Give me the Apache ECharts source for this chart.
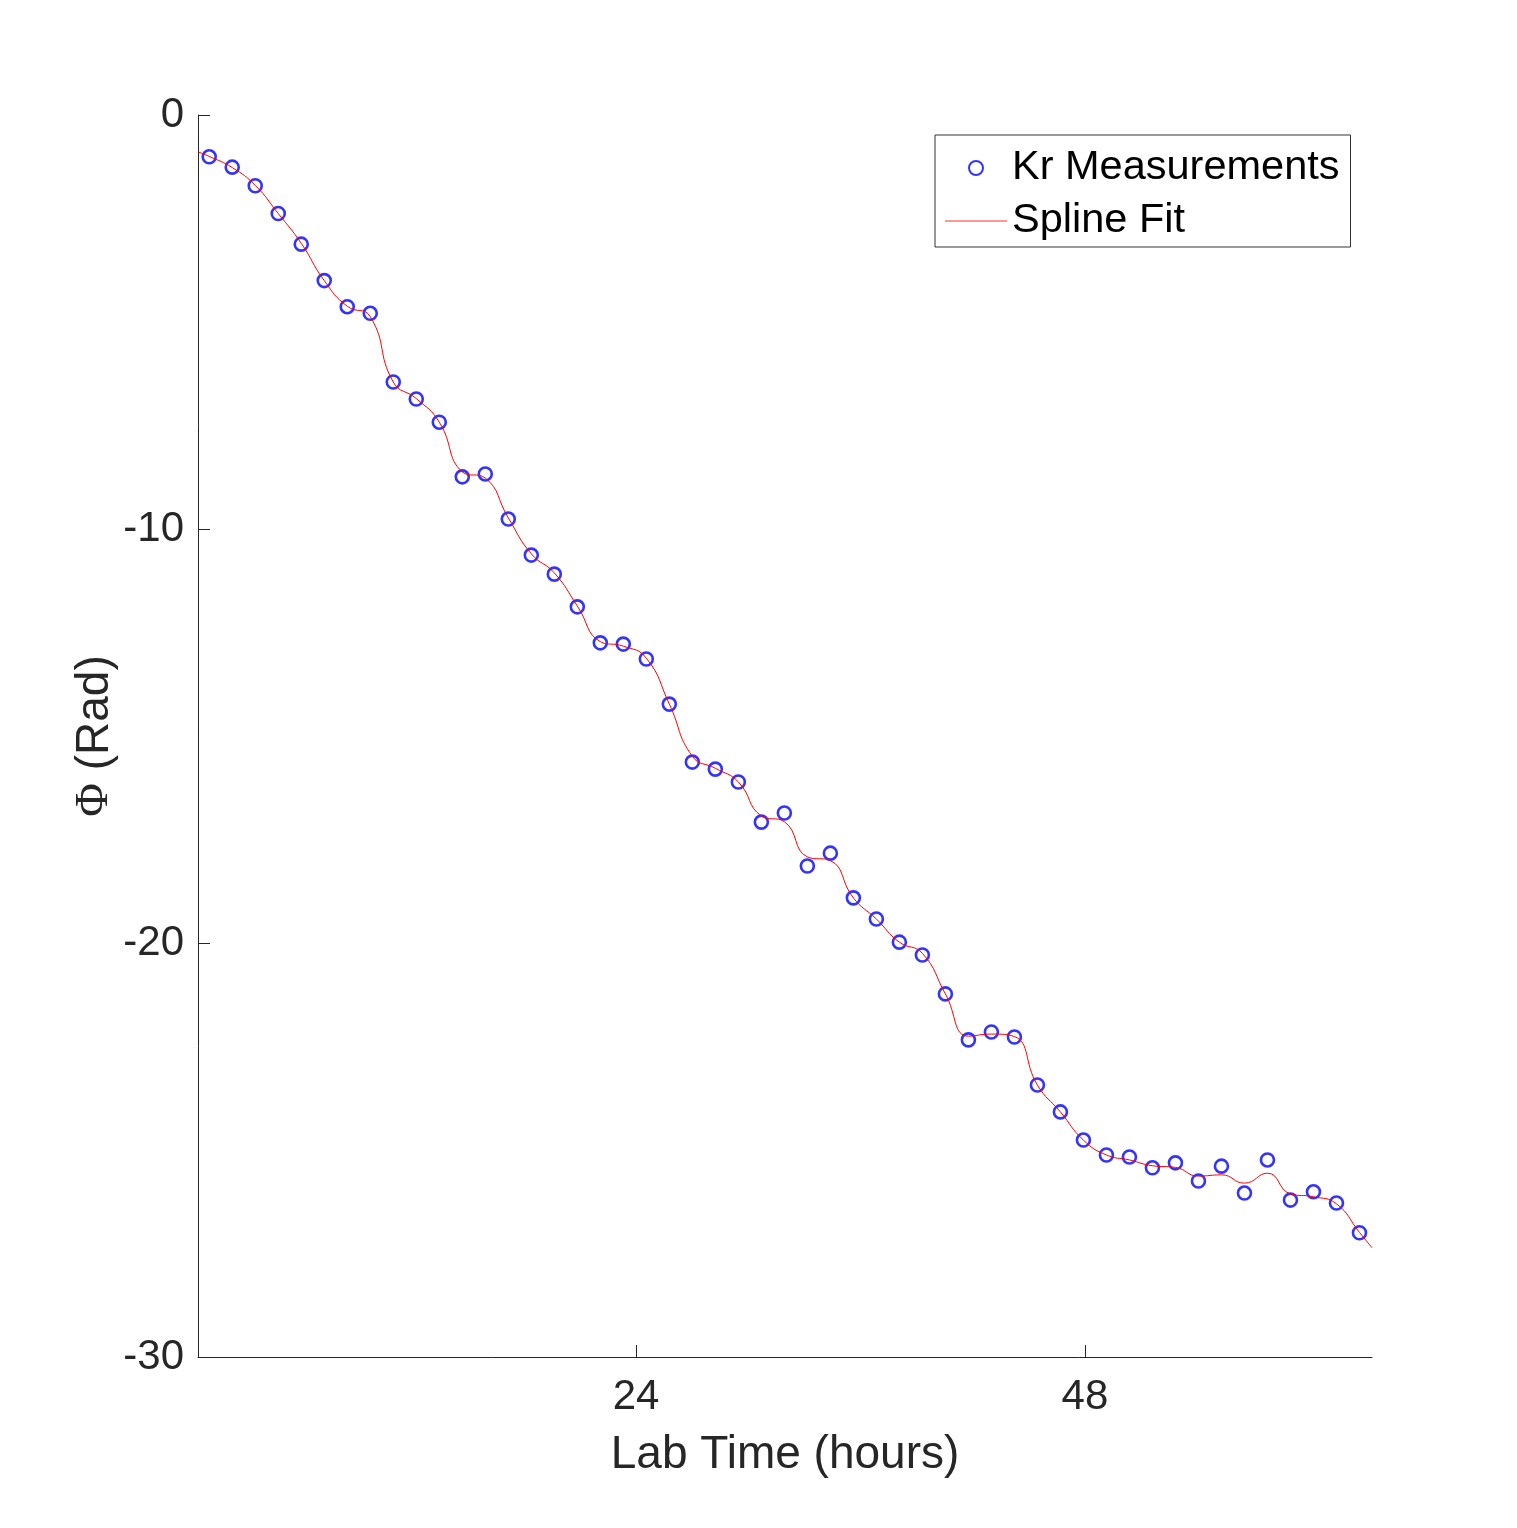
<!DOCTYPE html>
<html>
<head>
<meta charset="utf-8">
<title>Kr phase vs lab time</title>
<script src="https://cdn.jsdelivr.net/npm/echarts@6/dist/echarts.min.js"></script>
<style>
    html, body { margin: 0; padding: 0; background: #fff; }
    #main { width: 1517px; height: 1528px; }
</style>
</head>
<body>
<div id="main"></div>
<script>
// measured points (hours, rad)
var hours = [1.18, 2.41, 3.64, 4.87, 6.10, 7.33, 8.56, 9.79, 11.02, 12.25,
    13.48, 14.71, 15.94, 17.17, 18.40, 19.63, 20.86, 22.09, 23.32, 24.55,
    25.78, 27.01, 28.24, 29.47, 30.70, 31.93, 33.16, 34.39, 35.62, 36.85,
    38.08, 39.31, 40.54, 41.77, 43.00, 44.23, 45.46, 46.69, 47.92, 49.15,
    50.38, 51.61, 52.84, 54.07, 55.30, 56.53, 57.76, 58.99, 60.22, 61.45, 62.68];
var phase = [-1.01, -1.26, -1.71, -2.38, -3.12, -4.00, -4.63, -4.79, -6.45, -6.86,
    -7.42, -8.74, -8.67, -9.76, -10.63, -11.09, -11.88, -12.75, -12.78, -13.14,
    -14.23, -15.63, -15.80, -16.11, -17.08, -16.86, -18.14, -17.83, -18.91, -19.42,
    -19.98, -20.29, -21.23, -22.34, -22.15, -22.27, -23.43, -24.08, -24.76, -25.12,
    -25.17, -25.43, -25.31, -25.75, -25.39, -26.04, -25.24, -26.21, -26.01, -26.28, -27.00];

// spline fit read at the same times, plus both ends of the axis
var splineX = [0.58].concat(hours, [63.35]);
var splineY = [-0.89, -1.00, -1.27, -1.70, -2.38, -3.10, -4.00, -4.62, -4.87, -6.45, -6.85,
    -7.42, -8.62, -8.77, -9.73, -10.60, -11.06, -11.86, -12.72, -12.83, -13.12,
    -14.23, -15.49, -15.78, -16.11, -16.93, -17.07, -17.92, -18.01, -18.91, -19.42,
    -19.98, -20.25, -21.23, -22.25, -22.20, -22.26, -23.43, -24.08, -24.76, -25.12,
    -25.24, -25.38, -25.42, -25.63, -25.60, -25.80, -25.56, -26.06, -26.13, -26.30, -26.99, -27.36];

var xTicks = [24, 48];

var FONT = "'Liberation Sans', Arial, Helvetica, sans-serif";
var AX = '#262626';

var chart = echarts.init(document.getElementById('main'));

var measured = hours.map(function (h, i) { return [h, phase[i]]; });
var fit = splineX.map(function (h, i) { return [h, splineY[i]]; });

var option = {
    backgroundColor: '#fff',
    animation: false,
    textStyle: { fontFamily: FONT },
    grid: { left: 198, right: 145, top: 115, bottom: 171, containLabel: false },
    legend: {
        left: 935,
        top: 135,
        orient: 'vertical',
        itemWidth: 62,
        itemHeight: 14,
        itemGap: 9,
        padding: [11, 11, 4, 10],
        borderColor: '#333',
        borderWidth: 1,
        backgroundColor: '#fff',
        textStyle: { fontFamily: FONT, fontSize: 41.5, color: '#000', lineHeight: 44 },
        data: [
            { name: 'Kr Measurements', icon: 'circle' },
            { name: 'Spline Fit', icon: 'path://M0,0H62V1H0Z', itemStyle: { color: '#ff3030' } }
        ]
    },
    xAxis: {
        type: 'value',
        min: 0.58,
        max: 63.35,
        name: 'Lab Time (hours)',
        nameLocation: 'middle',
        nameGap: 75,
        nameMoveOverlap: false,
        nameTextStyle: { fontFamily: FONT, fontSize: 46, color: AX },
        axisLine: { show: true, onZero: false, lineStyle: { color: AX, width: 1 } },
        axisTick: { show: true, inside: true, length: 12, customValues: xTicks, lineStyle: { color: AX } },
        axisLabel: { customValues: xTicks, fontFamily: FONT, fontSize: 42, color: AX, margin: 19 },
        splitLine: { show: false }
    },
    yAxis: {
        type: 'value',
        min: -30,
        max: 0,
        interval: 10,
        name: '{phi|\u03a6} (Rad)',
        nameLocation: 'middle',
        nameGap: 80,
        nameMoveOverlap: false,
        nameTextStyle: {
            fontFamily: FONT, fontSize: 46, color: AX,
            rich: { phi: { fontFamily: "'Liberation Serif', 'DejaVu Serif', serif", fontSize: 46, color: AX } }
        },
        axisLine: { show: true, onZero: false, lineStyle: { color: AX, width: 1 } },
        axisTick: { show: true, inside: true, length: 12, lineStyle: { color: AX } },
        axisLabel: { fontFamily: FONT, fontSize: 42, color: AX, margin: 14 },
        splitLine: { show: false }
    },
    series: [
        {
            name: 'Kr Measurements',
            type: 'scatter',
            data: measured,
            symbol: 'circle',
            symbolSize: 13,
            itemStyle: { color: 'rgba(255,255,255,0)', borderColor: '#0000ff', borderWidth: 2.6 }
        },
        {
            name: 'Spline Fit',
            type: 'line',
            data: fit,
            symbol: 'none',
            smooth: 0.5,
            lineStyle: { color: '#ff0000', width: 1 },
            itemStyle: { color: '#ff0000' }
        }
    ]
};
chart.setOption(option);
</script>
</body>
</html>
